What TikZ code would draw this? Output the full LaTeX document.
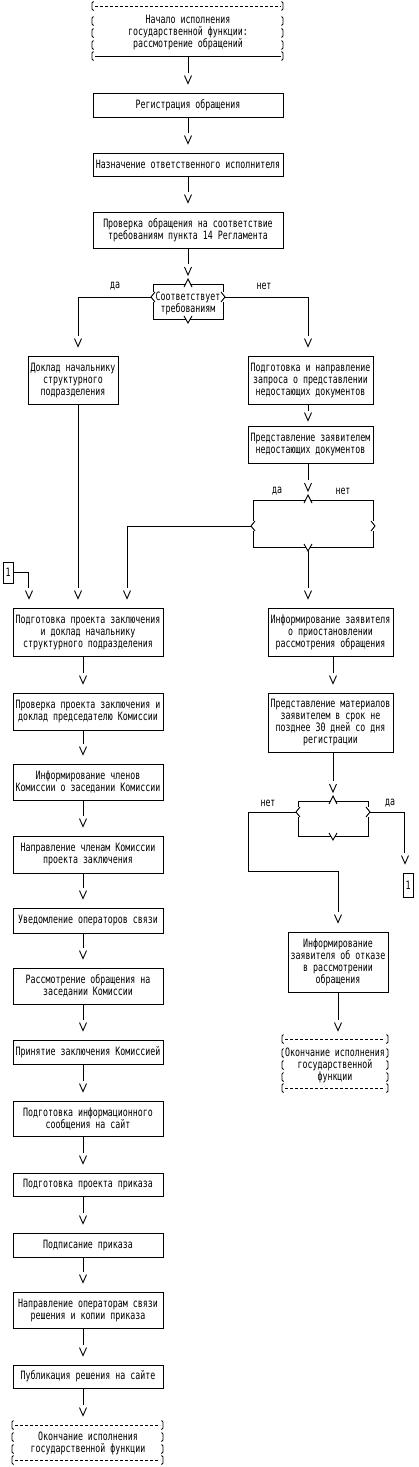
\documentclass[tikz,border=0pt]{standalone}
\usepackage{fontspec}
\newfontfamily\pxfam[FakeStretch=0.72]{DejaVu Sans Mono}
\newcommand\pxf{\pxfam\fontsize{11.5}{12}\selectfont}
\tikzset{
  vh/.pic={\draw (-3.5,-8) -- (0,0) -- (3.5,-8);},
  box/.style={draw, inner sep=0pt, align=center},
  txt/.style={inner sep=0pt, align=center},
  dashrow/.style={dash pattern=on 3pt off 2pt},
}
\newcommand\arrto[3]{\draw (#1) -- ([xshift=#3,yshift=20pt]#2); \pic at ([xshift=#3,yshift=9pt]#2) {vh};}
\newcommand\lpar[2]{\draw (#1+1.5,#2-4.5) -- (#1,#2-3) -- (#1,#2+3) -- (#1+1.5,#2+4.5);}
\newcommand\rpar[2]{\draw (#1-1.5,#2-4.5) -- (#1,#2-3) -- (#1,#2+3) -- (#1-1.5,#2+4.5);}
\newcommand\decis[6]{%
  \draw (#2-2.5,#4) -- (#1,#4) -- (#1,#6-5);
  \draw (#2+2.5,#4) -- (#3,#4) -- (#3,#6-5);
  \draw (#2-2.3,#5) -- (#1,#5) -- (#1,#6+5);
  \draw (#2+2.3,#5) -- (#3,#5) -- (#3,#6+5);
  \draw (#2-4,#4+3) -- (#2,#4-5) -- (#2+4,#4+3);
  \draw (#2-4,#5-3) -- (#2,#5+4) -- (#2+4,#5-3);
  \draw (#1+2,#6-5) -- (#1-2,#6) -- (#1+2,#6+5);
  \draw (#3-2,#6-5) -- (#3+2,#6) -- (#3-2,#6+5);
}
\begin{document}
\begin{tikzpicture}[x=1pt, y=-1pt, line width=0.9pt, font=\pxf]
\fill[white] (0,0) rectangle (418,1467);
\useasboundingbox (0,0) rectangle (418,1467);

% start terminator
\node[txt, minimum width=191pt, minimum height=46pt] (s) at (188,33) {Начало исполнения\\государственной функции:\\рассмотрение обращений};
\draw[dashrow] (95,6) -- (281,6);
\draw (95,56) -- (281,56);
\foreach \yy in {6,21,33,45,56} {\lpar{92}{\yy} \rpar{283}{\yy}}

% top column
\node[box, minimum width=190pt, minimum height=24pt] (b1) at (188,105) {Регистрация обращения};
\node[box, minimum width=190pt, minimum height=23pt] (b2) at (188,164.5) {Назначение ответственного исполнителя};
\node[box, minimum width=190pt, minimum height=36pt] (b3) at (188,230) {Проверка обращения на соответствие\\требованиям пункта 14 Регламента};

% decision 1
\node[txt] (d1) at (188,303) {Соответствует\\требованиям};
\decis{153}{188}{223}{284}{319}{297}
\coordinate (d1n) at (188,284);
\coordinate (d1w) at (151,297);
\coordinate (d1e) at (225,297);
\node[txt] (l1) at (115,286) {да};
\node[txt] (l2) at (264,286) {нет};

\node[box, minimum width=90pt, minimum height=48pt] (b4) at (73,380) {Доклад начальнику\\структурного\\подразделения};
\node[box, minimum width=125pt, minimum height=48pt] (b5) at (310.5,380) {Подготовка и направление\\запроса о представлении\\недостающих документов};
\node[box, minimum width=125pt, minimum height=37pt] (b6) at (310.5,444.5) {Представление заявителем\\недостающих документов};

% decision 2
\decis{253}{308}{373}{500}{547}{526}
\coordinate (d2n) at (308,500);
\coordinate (d2w) at (251,526);
\coordinate (d2s) at (308,551);
\node[txt] (l3) at (277,491) {да};
\node[txt] (l4) at (343,491) {нет};

\node[box, minimum width=125pt, minimum height=48pt] (b7) at (330.5,632) {Информирование заявителя\\о приостановлении\\рассмотрения обращения};
\node[box, minimum width=125pt, minimum height=59pt] (b8) at (330.5,722.5) {Представление материалов\\заявителем в срок не\\позднее 30 дней со дня\\регистрации};

% decision 3
\decis{298}{333}{368}{801}{836}{812}
\coordinate (d3n) at (333,801);
\coordinate (d3w) at (296,812);
\coordinate (d3e) at (370,812);
\node[txt] (l5) at (268,803) {нет};
\node[txt] (l6) at (390,803) {да};

\node[box, minimum width=10pt, minimum height=24pt] (c2) at (408,885) {1};
\node[box, minimum width=100pt, minimum height=60pt] (b9) at (338,962) {Информирование\\заявителя об отказе\\в рассмотрении\\обращения};

% end terminator 2
\node[txt, minimum width=106pt, minimum height=50pt] (e2) at (335,1065) {Окончание исполнения\\государственной\\функции};
\draw[dashrow] (285,1039) -- (385,1039);
\draw[dashrow] (285,1088) -- (385,1088);
\foreach \yy in {1039,1053,1065,1077,1088} {\lpar{282}{\yy} \rpar{388}{\yy}}

% left column
\node[box, minimum width=10pt, minimum height=21pt] (c1) at (8,572.5) {1};
\node[box, minimum width=150pt, minimum height=48pt] (L1) at (88,632) {Подготовка проекта заключения\\и доклад начальнику\\структурного подразделения};
\node[box, minimum width=150pt, minimum height=37pt] (L2) at (88,711.5) {Проверка проекта заключения и\\доклад председателю Комиссии};
\node[box, minimum width=150pt, minimum height=36pt] (L3) at (88,782) {Информирование членов\\Комиссии о заседании Комиссии};
\node[box, minimum width=150pt, minimum height=37pt] (L4) at (88,854.5) {Направление членам Комиссии\\проекта заключения};
\node[box, minimum width=150pt, minimum height=25pt] (L5) at (88,920.5) {Уведомление операторов связи};
\node[box, minimum width=150pt, minimum height=36pt] (L6) at (88,986) {Рассмотрение обращения на\\заседании Комиссии};
\node[box, minimum width=150pt, minimum height=24pt] (L7) at (88,1052) {Принятие заключения Комиссией};
\node[box, minimum width=150pt, minimum height=35pt] (L8) at (88,1118.5) {Подготовка информационного\\сообщения на сайт};
\node[box, minimum width=150pt, minimum height=23pt] (L9) at (88,1184.5) {Подготовка проекта приказа};
\node[box, minimum width=150pt, minimum height=24pt] (L10) at (88,1245) {Подписание приказа};
\node[box, minimum width=150pt, minimum height=36pt] (L11) at (88,1310) {Направление операторам связи\\решения и копии приказа};
\node[box, minimum width=150pt, minimum height=23pt] (L12) at (88,1376.5) {Публикация решения на сайте};

% end terminator 1
\node[txt, minimum width=151pt, minimum height=36pt] (e1) at (88,1443) {Окончание исполнения\\государственной функции};
\draw[dashrow] (15,1425) -- (160,1425);
\draw[dashrow] (15,1460) -- (160,1460);
\foreach \yy in {1425,1437,1449,1460} {\lpar{12}{\yy} \rpar{163}{\yy}}

% connectors
\arrto{s.south}{b1.north}{0pt}
\arrto{b1.south}{b2.north}{0pt}
\arrto{b2.south}{b3.north}{0pt}
\arrto{b3.south}{d1n}{0pt}
\draw (d1w) -| ([xshift=5pt,yshift=20pt]b4.north); \pic at ([xshift=5pt,yshift=9pt]b4.north) {vh};
\draw (d1e) -| ([xshift=-2.5pt,yshift=20pt]b5.north); \pic at ([xshift=-2.5pt,yshift=9pt]b5.north) {vh};
\draw ([xshift=-2.5pt]b5.south) -- ([xshift=-2.5pt,yshift=15pt]b6.north); \pic at ([xshift=-2.5pt,yshift=5pt]b6.north) {vh};
\arrto{[xshift=-2.5pt]b6.south}{d2n}{0pt}
\draw (d2w) -| ([xshift=39pt,yshift=20pt]L1.north); \pic at ([xshift=39pt,yshift=9pt]L1.north) {vh};
\draw (d2s) -- ([xshift=-22.5pt,yshift=20pt]b7.north); \pic at ([xshift=-22.5pt,yshift=9pt]b7.north) {vh};
\draw ([xshift=5pt]b4.south) -- ([xshift=-10pt,yshift=20pt]L1.north); \pic at ([xshift=-10pt,yshift=9pt]L1.north) {vh};
\draw (c1.east) -| ([xshift=-60pt,yshift=20pt]L1.north); \pic at ([xshift=-59pt,yshift=9pt]L1.north) {vh};
\arrto{[xshift=2.5pt]b7.south}{b8.north}{2.5pt}
\arrto{[xshift=2.5pt]b8.south}{d3n}{0pt}
\draw (d3w) -| ([xshift=-90pt,yshift=60pt]b9.north) -- ([yshift=60pt]b9.north) -- ([yshift=20pt]b9.north); \pic at ([yshift=9pt]b9.north) {vh};
\draw (d3e) -| ([xshift=-4pt,yshift=20pt]c2.north); \pic at ([xshift=-3pt,yshift=9pt]c2.north) {vh};
\draw (b9.south) -- ([xshift=3pt,yshift=20pt]e2.north); \pic at ([xshift=3pt,yshift=9pt]e2.north) {vh};
\arrto{[xshift=-5pt]L1.south}{L2.north}{-5pt}
\arrto{[xshift=-5pt]L2.south}{L3.north}{-5pt}
\arrto{[xshift=-5pt]L3.south}{L4.north}{-5pt}
\arrto{[xshift=-5pt]L4.south}{L5.north}{-5pt}
\arrto{[xshift=-5pt]L5.south}{L6.north}{-5pt}
\arrto{[xshift=-5pt]L6.south}{L7.north}{-5pt}
\arrto{[xshift=-5pt]L7.south}{L8.north}{-5pt}
\arrto{[xshift=-5pt]L8.south}{L9.north}{-5pt}
\arrto{[xshift=-5pt]L9.south}{L10.north}{-5pt}
\arrto{[xshift=-5pt]L10.south}{L11.north}{-5pt}
\arrto{[xshift=-5pt]L11.south}{L12.north}{-5pt}
\arrto{[xshift=-5pt]L12.south}{e1.north}{-5pt}
\end{tikzpicture}
\end{document}
